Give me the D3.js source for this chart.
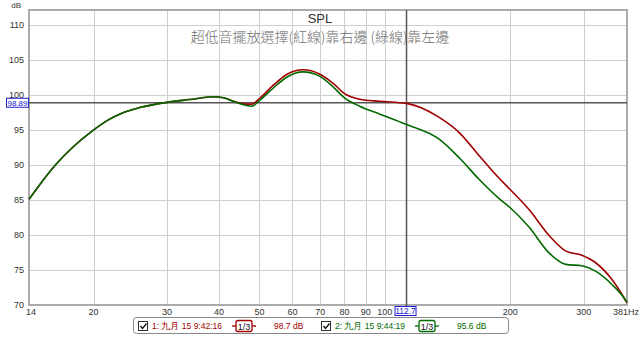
<!DOCTYPE html>
<html>
<head>
<meta charset="utf-8">
<script src="https://cdn.jsdelivr.net/npm/d3@7/dist/d3.min.js"></script>
<style>
  body { margin: 0; background: #fff; }
  text { font-family: "Liberation Sans", Arial, sans-serif; }
</style>
</head>
<body>
<div id="chart"></div>
<script>
// frequency points (Hz)
const freqs = [14, 14.9, 16.2, 17.8, 19.8, 21.5, 23.6, 25.8, 30, 34, 38.7, 41, 44.2, 46.5, 48, 50,
               54, 58, 63.5, 69.7, 75, 80, 87, 97, 112.7, 135, 151, 168, 188, 199, 222, 248, 272,
               297, 321, 351, 375, 381];
// measurement 1 (red) - sub on the right
const redSpl = [85.1, 87.3, 90.0, 92.5, 94.8, 96.3, 97.5, 98.2, 98.95, 99.35, 99.75, 99.6, 98.95, 98.7, 98.7, 99.5,
                101.4, 102.9, 103.6, 103.0, 101.7, 100.2, 99.4, 99.1, 98.8, 96.8, 94.6, 91.4, 88.1, 86.6, 83.6, 79.9, 77.7,
                77.1, 76.0, 73.6, 71.0, 70.3];
// measurement 2 (green) - sub on the left
const greenSpl = [85.1, 87.3, 90.0, 92.5, 94.8, 96.3, 97.5, 98.2, 98.95, 99.35, 99.75, 99.6, 98.9, 98.5, 98.4, 99.2,
                  101.0, 102.5, 103.3, 102.7, 101.2, 99.6, 98.4, 97.3, 95.8, 93.7, 91.0, 88.0, 85.2, 84.0, 81.1, 77.4, 75.8,
                  75.6, 74.8, 72.9, 71.0, 70.4];

const yTicks = [70, 75, 80, 85, 90, 95, 100, 105, 110];
const xTicks = [14, 20, 30, 40, 50, 60, 70, 80, 90, 100, 200, 300, 381];
const refLevel = 98.89;
const cursorFreq = 112.7;

const title = "SPL";
const subtitle = "超低音擺放選擇(紅線)靠右邊 (綠線)靠左邊";
const legendLabels = ["1: 九月 15 9:42:16", "2: 九月 15 9:44:19"];
const legendValues = ["98.7 dB", "95.6 dB"];
const legendColors = ["#a00000", "#006a00"];

// dimensions
const W = 640, H = 337;
const plot = { left: 29, right: 627, top: 10, bottom: 305 };

const x = d3.scaleLog().domain([14, 381]).range([plot.left, plot.right]);
const y = d3.scaleLinear().domain([70, 110]).range([plot.bottom, 25]);

const svg = d3.select("#chart").append("svg")
    .attr("width", W).attr("height", H);

// grid
const grid = svg.append("g").attr("stroke", "#cfcfcf").attr("stroke-width", 1);
grid.selectAll("line.h").data(yTicks).join("line")
    .attr("x1", plot.left).attr("x2", plot.right)
    .attr("y1", d => Math.round(y(d)) + 0.5).attr("y2", d => Math.round(y(d)) + 0.5);
grid.selectAll("line.v").data(xTicks.slice(1, -1)).join("line")
    .attr("x1", d => Math.round(x(d)) + 0.5).attr("x2", d => Math.round(x(d)) + 0.5)
    .attr("y1", plot.top).attr("y2", plot.bottom);

// frame
svg.append("rect")
    .attr("x", plot.left).attr("y", plot.top)
    .attr("width", plot.right - plot.left).attr("height", plot.bottom - plot.top)
    .attr("fill", "none").attr("stroke", "#ababab").attr("stroke-width", 2);

// y tick labels
svg.append("g").selectAll("text").data(yTicks).join("text")
    .attr("x", 24).attr("y", d => y(d) + 3)
    .attr("text-anchor", "end").attr("font-size", 9).attr("fill", "#333")
    .text(d => d);
svg.append("text").attr("x", 21).attr("y", 8).attr("text-anchor", "end")
    .attr("font-size", 8).attr("fill", "#333").text("dB");

// x tick labels
svg.append("g").selectAll("text").data(xTicks).join("text")
    .attr("x", d => d === 14 ? x(d) + 2 : (d === 381 ? 639 : x(d)))
    .attr("y", 315)
    .attr("text-anchor", d => d === 381 ? "end" : "middle")
    .attr("font-size", 9).attr("fill", "#333")
    .text(d => d === 381 ? "381Hz" : d);

// title
svg.append("text").attr("x", 320).attr("y", 23).attr("text-anchor", "middle")
    .attr("font-size", 13).attr("fill", "#333").text(title);
svg.append("text").attr("x", 320).attr("y", 42).attr("text-anchor", "middle")
    .attr("font-size", 14).attr("fill", "#707070")
    .style("font-family", '"Noto Sans CJK TC", sans-serif').style("font-weight", 300)
    .text(subtitle);

// reference level line
svg.append("line")
    .attr("x1", plot.left).attr("x2", plot.right)
    .attr("y1", y(refLevel)).attr("y2", y(refLevel))
    .attr("stroke", "#555").attr("stroke-width", 1.5);
svg.append("rect").attr("x", 6.5).attr("y", y(refLevel) - 4.5).attr("width", 22).attr("height", 9)
    .attr("fill", "#fff").attr("stroke", "#2020d0");
svg.append("text").attr("x", 17.5).attr("y", y(refLevel) + 3).attr("text-anchor", "middle")
    .attr("font-size", 8).attr("fill", "#2020d0").text(refLevel.toFixed(2));

// cursor line
svg.append("line")
    .attr("x1", x(cursorFreq)).attr("x2", x(cursorFreq))
    .attr("y1", plot.top).attr("y2", plot.bottom + 2)
    .attr("stroke", "#555").attr("stroke-width", 1.5);
svg.append("rect").attr("x", x(cursorFreq) - 11.5).attr("y", 306.5).attr("width", 21).attr("height", 9)
    .attr("fill", "#fff").attr("stroke", "#2020d0");
svg.append("text").attr("x", x(cursorFreq) - 1).attr("y", 314).attr("text-anchor", "middle")
    .attr("font-size", 8.5).attr("fill", "#2020d0").text(cursorFreq);

// curves
const line = d3.line()
    .x(d => x(d[0]))
    .y(d => y(d[1]))
    .curve(d3.curveMonotoneX);

[redSpl, greenSpl].forEach((series, i) => {
    svg.append("path")
        .datum(freqs.map((f, k) => [f, series[k]]))
        .attr("fill", "none")
        .attr("stroke", legendColors[i])
        .attr("stroke-width", 1.6)
        .attr("d", line);
});

// legend
const legend = svg.append("g");
legend.append("rect").attr("x", 133.5).attr("y", 317.5).attr("width", 375).attr("height", 16)
    .attr("rx", 3).attr("fill", "#fff").attr("stroke", "#888");

const legendX = [138, 321];
legendLabels.forEach((lab, i) => {
    const x0 = legendX[i];
    const c = legendColors[i];
    // checkbox
    legend.append("rect").attr("x", x0 + 0.5).attr("y", 321.5).attr("width", 9).attr("height", 9)
        .attr("fill", "#fff").attr("stroke", "#333");
    legend.append("path").attr("d", `M${x0 + 2.5},${326} l2,2.5 l4,-5`)
        .attr("fill", "none").attr("stroke", "#111").attr("stroke-width", 1.3);
    // label
    legend.append("text").attr("x", x0 + 14).attr("y", 329).attr("font-size", 8.5)
        .attr("fill", c).text(lab);
    // smoothing icon
    const ix = x0 + 98;
    legend.append("line").attr("x1", ix - 4).attr("x2", ix + 20).attr("y1", 326).attr("y2", 326)
        .attr("stroke", c).attr("stroke-width", 1.3);
    legend.append("rect").attr("x", ix).attr("y", 320.5).attr("width", 16).attr("height", 11)
        .attr("rx", 2).attr("fill", "#fff").attr("stroke", c).attr("stroke-width", 1.3);
    legend.append("text").attr("x", ix + 8).attr("y", 329.5).attr("text-anchor", "middle")
        .attr("font-size", 9).attr("fill", "#111").text("1/3");
    // value
    legend.append("text").attr("x", x0 + 136).attr("y", 329).attr("font-size", 8.5)
        .attr("fill", c).text(legendValues[i]);
});
</script>
</body>
</html>
